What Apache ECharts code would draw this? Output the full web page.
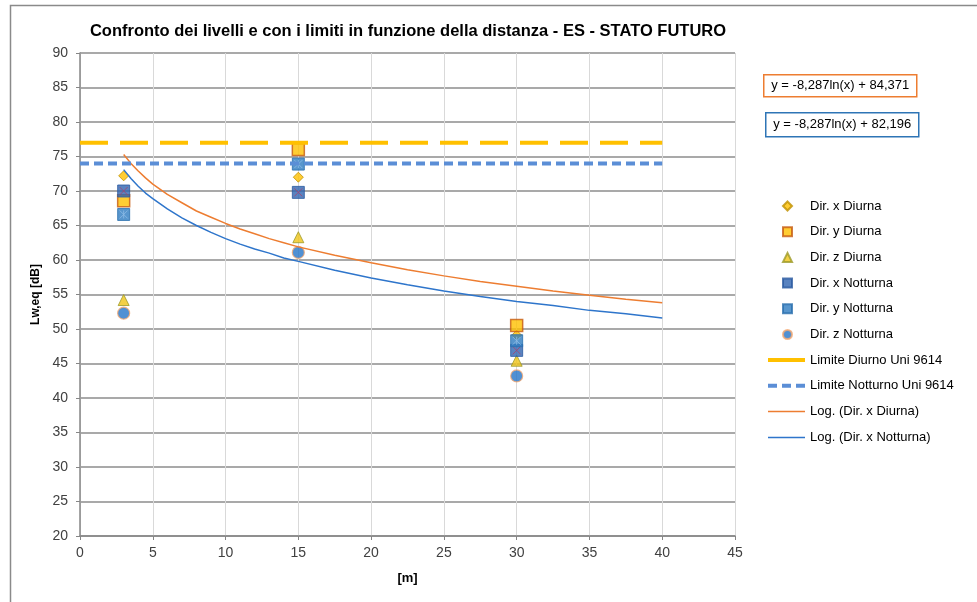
<!DOCTYPE html>
<html>
<head>
<meta charset="utf-8">
<script src="https://cdn.jsdelivr.net/npm/echarts@6/dist/echarts.min.js"></script>
<style>
html,body{margin:0;padding:0;background:#fff;}
#chart{width:977px;height:602px;}
</style>
</head>
<body>
<div id="chart"></div>
<script>
// ---- data ----
const distances = [3, 15, 30];
const dirXDiurna = [72.2, 72.0, 49.1];
const dirYDiurna = [68.6, 76.0, 50.5];
const dirZDiurna = [54.2, 63.3, 45.4];
const dirXNotturna = [70.0, 69.8, 46.9];
const dirYNotturna = [66.6, 73.9, 48.3];
const dirZNotturna = [52.3, 61.1, 43.2];

const limitX = [0, 40];
const limiteDiurno = [77, 77];
const limiteNotturno = [74, 74];

// trend curves, values
const trendX = [3, 3.5, 4, 4.5, 5, 6, 7, 8, 9, 10, 11, 12, 13, 14, 15, 17.5, 20, 22.5, 25, 27.5, 30, 32.5, 35, 37.5, 40];
const logDiurna = [75.3, 74.0, 72.9, 71.9, 71.0, 69.5, 68.3, 67.1, 66.2, 65.3, 64.5, 63.8, 63.1, 62.5, 61.9, 60.7, 59.6, 58.6, 57.7, 56.9, 56.2, 55.5, 54.9, 54.3, 53.8];
const logNotturna = [73.1, 71.8, 70.7, 69.7, 68.9, 67.4, 66.1, 65.0, 64.0, 63.1, 62.3, 61.6, 61.0, 60.3, 59.8, 58.5, 57.4, 56.4, 55.5, 54.7, 54.0, 53.4, 52.7, 52.2, 51.6];

const xTicks = {min: 0, max: 45, interval: 5};
const yTicks = {min: 20, max: 90, interval: 5};

const titleText = 'Confronto dei livelli e con i limiti in funzione della distanza - ES - STATO FUTURO';
const eqDiurna = 'y = -8,287ln(x) + 84,371';
const eqNotturna = 'y = -8,287ln(x) + 82,196';

function pairs(xs, ys) { return xs.map((x, i) => [x, ys[i]]); }

const FONT = "'Liberation Sans', Arial, sans-serif";

const chart = echarts.init(document.getElementById('chart'), null, {renderer: 'canvas'});

const option = {
  animation: false,
  backgroundColor: '#ffffff',
  title: {
    text: titleText,
    left: 403,
    top: 18,
    textAlign: 'center',
    textStyle: {fontFamily: FONT, fontWeight: 'bold', fontSize: 16.5, color: '#000'}
  },
  grid: {left: 80, right: 242, top: 53, bottom: 66, containLabel: false},
  xAxis: {
    type: 'value', min: xTicks.min, max: xTicks.max, interval: xTicks.interval,
    name: '[m]', nameLocation: 'middle', nameGap: 36,
    nameTextStyle: {fontFamily: FONT, fontWeight: 'bold', fontSize: 13, color: '#000', verticalAlign: 'top'},
    axisLine: {show: true, lineStyle: {color: '#868686', width: 1.5}},
    axisTick: {show: true, length: 4, lineStyle: {color: '#868686'}},
    axisLabel: {margin: 10, fontFamily: FONT, fontSize: 14, color: '#404040'},
    splitLine: {show: true, lineStyle: {color: '#D9D9D9', width: 1}}
  },
  yAxis: {
    type: 'value', min: yTicks.min, max: yTicks.max, interval: yTicks.interval,
    name: 'Lw,eq [dB]', nameLocation: 'middle', nameGap: 35,
    nameTextStyle: {fontFamily: FONT, fontWeight: 'bold', fontSize: 12, color: '#000'},
    axisLine: {show: true, lineStyle: {color: '#868686', width: 1.5}},
    axisTick: {show: true, length: 4, lineStyle: {color: '#868686'}},
    axisLabel: {margin: 12, fontFamily: FONT, fontSize: 14, color: '#404040'},
    splitLine: {show: true, lineStyle: {color: '#8C8C8C', width: 1.5}}
  },
  legend: [
    {
      orient: 'vertical', left: 777, top: 193,
      itemWidth: 9, itemHeight: 9, itemGap: 9.7,
      textStyle: {fontFamily: FONT, fontSize: 13, color: '#000', lineHeight: 16,
        rich: {a: {fontFamily: FONT, fontSize: 13, color: '#000', padding: [0, 0, 0, 13]}}},
      formatter: '{a|{name}}',
      data: [
        {name: 'Dir. x Diurna', icon: 'diamond'},
        {name: 'Dir. y Diurna', icon: 'rect'},
        {name: 'Dir. z Diurna', icon: 'triangle'},
        {name: 'Dir. x Notturna', icon: 'rect'},
        {name: 'Dir. y Notturna', icon: 'rect'},
        {name: 'Dir. z Notturna', icon: 'circle'}
      ]
    },
    {
      orient: 'vertical', left: 761, top: 347,
      itemWidth: 37, itemHeight: 10, itemGap: 9.8,
      itemStyle: {opacity: 0},
      textStyle: {fontFamily: FONT, fontSize: 13, color: '#000', lineHeight: 16},
      data: [
        {name: 'Limite Diurno Uni 9614', lineStyle: {width: 4, color: '#FFC000', type: 'solid'}},
        {name: 'Limite Notturno Uni 9614', lineStyle: {width: 4, color: '#5B8ED6', type: [9, 5]}},
        {name: 'Log. (Dir. x Diurna)', lineStyle: {width: 1.5, color: '#ED7D31'}},
        {name: 'Log. (Dir. x Notturna)', lineStyle: {width: 1.5, color: '#2E75CB'}}
      ]
    }
  ],
  series: [
    {
      name: 'Log. (Dir. x Diurna)', type: 'line', data: pairs(trendX, logDiurna),
      smooth: false, showSymbol: false, symbol: 'none',
      lineStyle: {color: '#ED7D31', width: 1.5}, itemStyle: {color: '#ED7D31'}
    },
    {
      name: 'Log. (Dir. x Notturna)', type: 'line', data: pairs(trendX, logNotturna),
      smooth: false, showSymbol: false, symbol: 'none',
      lineStyle: {color: '#2E75CB', width: 1.5}, itemStyle: {color: '#2E75CB'}
    },
    {
      name: 'Limite Diurno Uni 9614', type: 'line', data: pairs(limitX, limiteDiurno),
      showSymbol: false, symbol: 'none',
      lineStyle: {color: '#FFC000', width: 4, type: [28, 12]}, itemStyle: {color: '#FFC000'}
    },
    {
      name: 'Limite Notturno Uni 9614', type: 'line', data: pairs(limitX, limiteNotturno),
      showSymbol: false, symbol: 'none',
      lineStyle: {color: '#5B8ED6', width: 4, type: [9, 5]}, itemStyle: {color: '#5B8ED6'}
    },
    {
      name: 'Dir. x Diurna', type: 'scatter', data: pairs(distances, dirXDiurna),
      symbol: 'diamond', symbolSize: 10,
      itemStyle: {color: '#FFC000', borderColor: '#BF9000', borderWidth: 1}
    },
    {
      name: 'Dir. y Diurna', type: 'scatter', data: pairs(distances, dirYDiurna),
      symbol: 'rect', symbolSize: 12,
      itemStyle: {color: '#FFC000', borderColor: '#C55A11', borderWidth: 1.5}
    },
    {
      name: 'Dir. z Diurna', type: 'scatter', data: pairs(distances, dirZDiurna),
      symbol: 'triangle', symbolSize: 11,
      itemStyle: {color: '#F0C418', borderColor: '#9C9A28', borderWidth: 1}
    },
    {
      name: 'Dir. x Notturna', type: 'scatter', data: pairs(distances, dirXNotturna),
      symbol: 'rect', symbolSize: 12,
      itemStyle: {color: '#2F64B0', borderColor: '#2A5AA0', borderWidth: 1}
    },
    {
      name: 'Dir. x Notturna', type: 'scatter', data: pairs(distances, dirXNotturna),
      symbol: 'path://M0,0L10,10M10,0L0,10', symbolSize: 8, silent: true,
      itemStyle: {color: 'transparent', borderColor: '#A8446E', borderWidth: 1}
    },
    {
      name: 'Dir. y Notturna', type: 'scatter', data: pairs(distances, dirYNotturna),
      symbol: 'rect', symbolSize: 12,
      itemStyle: {color: '#2E7CC0', borderColor: '#2A6FAE', borderWidth: 1}
    },
    {
      name: 'Dir. y Notturna', type: 'scatter', data: pairs(distances, dirYNotturna),
      symbol: 'path://M0,0L10,10M10,0L0,10M5,0L5,10', symbolSize: 8, silent: true,
      itemStyle: {color: 'transparent', borderColor: '#8DBBE6', borderWidth: 1}
    },
    {
      name: 'Dir. z Notturna', type: 'scatter', data: pairs(distances, dirZNotturna),
      symbol: 'circle', symbolSize: 12,
      itemStyle: {color: '#2474C8', borderColor: '#F4A870', borderWidth: 1.2}
    }
  ],
  graphic: [
    {
      type: 'rect', left: 8, top: 3, silent: true, z: -10,
      shape: {width: 1100, height: 800},
      style: {fill: 'none', stroke: '#8A8A8A', lineWidth: 1.5}
    },
    {
      type: 'group', left: 763, top: 74,
      children: [
        {type: 'rect', shape: {x: 0, y: 0, width: 153, height: 22},
          style: {fill: '#fff', stroke: '#ED7D31', lineWidth: 1.5}},
        {type: 'text', x: 76.5, y: 11,
          style: {text: eqDiurna, fill: '#000', font: "13px 'Liberation Sans', Arial, sans-serif", align: 'center', verticalAlign: 'middle'}}
      ]
    },
    {
      type: 'group', left: 765, top: 112,
      children: [
        {type: 'rect', shape: {x: 0, y: 0, width: 153, height: 24},
          style: {fill: '#fff', stroke: '#2E75B6', lineWidth: 1.5}},
        {type: 'text', x: 76.5, y: 12,
          style: {text: eqNotturna, fill: '#000', font: "13px 'Liberation Sans', Arial, sans-serif", align: 'center', verticalAlign: 'middle'}}
      ]
    }
  ]
};
chart.setOption(option);
</script>
</body>
</html>
